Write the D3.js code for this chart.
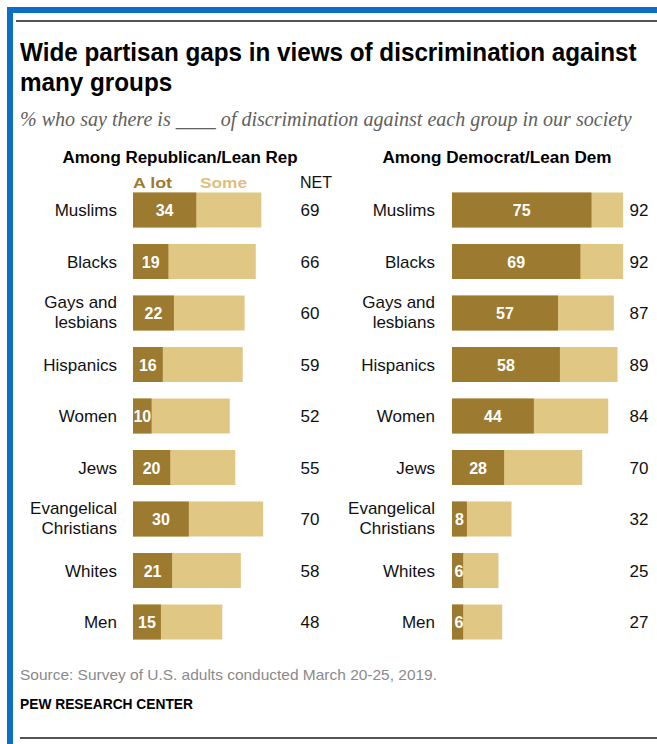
<!DOCTYPE html>
<html>
<head>
<meta charset="utf-8">
<script src="https://cdn.jsdelivr.net/npm/d3@7"></script>
<style>
body { margin: 0; background: #fff; }
svg { display: block; }
</style>
</head>
<body>
<svg id="canvas" width="657" height="744"></svg>
<script>
var categories = ['Muslims', 'Blacks', 'Gays and\nlesbians', 'Hispanics', 'Women', 'Jews', 'Evangelical\nChristians', 'Whites', 'Men'];
var rep_a_lot = [34, 19, 22, 16, 10, 20, 30, 21, 15];
var rep_net = [69, 66, 60, 59, 52, 55, 70, 58, 48];
var dem_a_lot = [75, 69, 57, 58, 44, 28, 8, 6, 6];
var dem_net = [92, 92, 87, 89, 84, 70, 32, 25, 27];
var legend_labels = ['A lot', 'Some'];
var net_label = 'NET';
var panel_titles = ['Among Republican/Lean Rep', 'Among Democrat/Lean Dem'];
var title_lines = ['Wide partisan gaps in views of discrimination against', 'many groups'];
var subtitle = '% who say there is ____ of discrimination against each group in our society';
var source = 'Source: Survey of U.S. adults conducted March 20-25, 2019.';
var credit = 'PEW RESEARCH CENTER';

var colors = {a_lot: '#9c7a2f', some: '#e0c783', some_text: '#dcc07e', blue: '#0c6fc5'};
var sans = "'Liberation Sans', Arial, sans-serif";

var svg = d3.select('#canvas');

draw_frame();
draw_header();
draw_panel({title: panel_titles[0], title_x: 180, label_x: 117, bar_x: 133, net_x: 310, a_lot: rep_a_lot, net: rep_net, legend: true});
draw_panel({title: panel_titles[1], title_x: 497, label_x: 435, bar_x: 452, net_x: 639, a_lot: dem_a_lot, net: dem_net, legend: false});
draw_footer();

// squeeze text to a given width (the Pew font is condensed)
function fit(sel, width){
    sel.attr('textLength', width).attr('lengthAdjust', 'spacingAndGlyphs');
}

function draw_frame(){
    svg.append('rect').attr('x', 7).attr('y', 7).attr('width', 650).attr('height', 6).attr('fill', colors.blue);
    svg.append('rect').attr('x', 7).attr('y', 7).attr('width', 6).attr('height', 737).attr('fill', colors.blue);
    svg.append('line').attr('x1', 16).attr('x2', 657).attr('y1', 21).attr('y2', 21)
	.attr('stroke', '#1a1a1a').attr('stroke-width', 1.5);
    svg.append('line').attr('x1', 20).attr('x2', 657).attr('y1', 738).attr('y2', 738)
	.attr('stroke', '#1a1a1a').attr('stroke-width', 1.5);
}

function draw_header(){
    // title is drawn in a horizontally squeezed group so it looks condensed
    var tg = svg.append('g');
    var t1 = tg.append('text').attr('x', 0).attr('y', 0)
	.style('font-family', sans).style('font-weight', 'bold').style('font-size', '26px')
	.attr('fill', '#000').text(title_lines[0]);
    tg.append('text').attr('x', 0).attr('y', 30)
	.style('font-family', sans).style('font-weight', 'bold').style('font-size', '26px')
	.attr('fill', '#000').text(title_lines[1]);
    var ratio = 617 / t1.node().getComputedTextLength();
    tg.attr('transform', 'translate(20,61) scale(' + ratio.toFixed(4) + ',1)');

    // size the subtitle so it spans the same width as in the original
    var sub = svg.append('text').attr('x', 20).attr('y', 126)
	.style('font-family', "'Liberation Serif', 'DejaVu Serif', serif").style('font-style', 'italic')
	.style('font-size', '18px').attr('fill', '#606060').text(subtitle);
    var fs = 18 * 612 / sub.node().getComputedTextLength();
    sub.style('font-size', fs.toFixed(2) + 'px');
}

function draw_panel(p){
    var x_scale = d3.scaleLinear().domain([0, 100]).range([0, 186]);
    var y_scale = d3.scalePoint().domain(categories).range([210, 622]);
    var bar_h = 35;
    var g = svg.append('g');

    var head = g.append('text').attr('x', p.title_x).attr('y', 163).attr('text-anchor', 'middle')
	.style('font-family', sans).style('font-weight', 'bold').style('font-size', '16px')
	.attr('fill', '#000').text(p.title);
    fit(head, p.legend ? 235 : 229);

    if(p.legend){
	var l1 = g.append('text').attr('x', p.bar_x).attr('y', 188)
	    .style('font-family', sans).style('font-weight', 'bold').style('font-size', '15px')
	    .attr('fill', colors.a_lot).text(legend_labels[0]);
	fit(l1, 39);
	var l2 = g.append('text').attr('x', 200).attr('y', 188)
	    .style('font-family', sans).style('font-weight', 'bold').style('font-size', '15px')
	    .attr('fill', colors.some_text).text(legend_labels[1]);
	fit(l2, 47);
	g.append('text').attr('x', p.net_x + 6).attr('y', 188).attr('text-anchor', 'middle')
	    .style('font-family', sans).style('font-size', '16px')
	    .attr('fill', '#111').text(net_label);
    }

    var rows = g.selectAll('.row')
	.data(categories.map(function(c, i){ return {cat: c, a_lot: p.a_lot[i], net: p.net[i]}; }))
	.enter()
	.append('g')
	.attr('class', 'row')
	.attr('transform', function(d){ return 'translate(0,' + y_scale(d.cat) + ')'; });

    rows.append('rect')
	.attr('x', p.bar_x).attr('y', -bar_h / 2)
	.attr('width', function(d){ return x_scale(d.net); })
	.attr('height', bar_h).attr('fill', colors.some);
    rows.append('rect')
	.attr('x', p.bar_x).attr('y', -bar_h / 2)
	.attr('width', function(d){ return x_scale(d.a_lot); })
	.attr('height', bar_h).attr('fill', colors.a_lot);

    rows.append('text')
	.attr('x', function(d){ return p.bar_x + Math.max(x_scale(d.a_lot) / 2, 7); })
	.attr('y', 6).attr('text-anchor', 'middle')
	.style('font-family', sans).style('font-weight', 'bold').style('font-size', '16px')
	.attr('fill', '#fff').text(function(d){ return d.a_lot; });

    rows.append('text')
	.attr('x', p.net_x).attr('y', 6).attr('text-anchor', 'middle')
	.style('font-family', sans).style('font-size', '17px')
	.attr('fill', '#111').text(function(d){ return d.net; });

    var labels = rows.append('text')
	.attr('text-anchor', 'end')
	.style('font-family', sans).style('font-size', '17px')
	.attr('fill', '#111');
    labels.each(function(d){
	var lines = d.cat.split('\n');
	var first = lines.length > 1 ? -5 : 6;
	d3.select(this).selectAll('tspan')
	    .data(lines)
	    .enter()
	    .append('tspan')
	    .attr('x', p.label_x)
	    .attr('y', function(l, i){ return first + i * 20; })
	    .text(function(l){ return l; });
    });
}

function draw_footer(){
    var s = svg.append('text').attr('x', 20).attr('y', 680)
	.style('font-family', sans).style('font-size', '15px')
	.attr('fill', '#8a8a8a').text(source);
    fit(s, 417);
    var c = svg.append('text').attr('x', 20).attr('y', 709)
	.style('font-family', sans).style('font-weight', 'bold').style('font-size', '14px')
	.attr('fill', '#000').text(credit);
    fit(c, 173);
}
</script>
</body>
</html>
